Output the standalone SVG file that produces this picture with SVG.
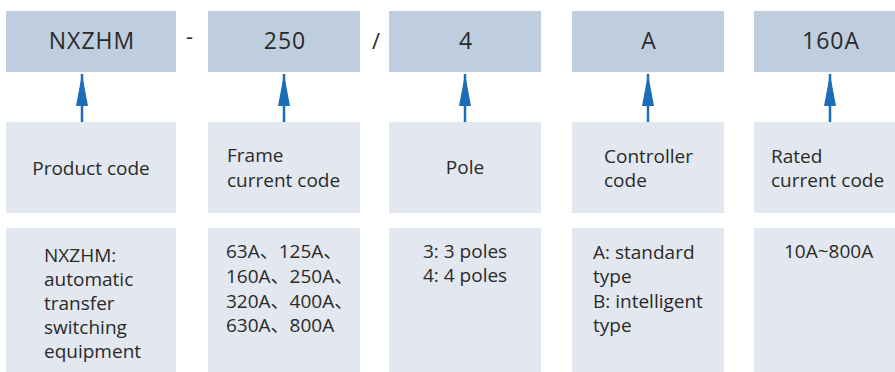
<svg xmlns="http://www.w3.org/2000/svg" width="895" height="372" viewBox="0 0 895 372">
<defs>
<style>
.top{fill:#bfcedf}
.box{fill:#e3e7ef}
text{font-family:"Open Sans","Noto Sans CJK SC",sans-serif;fill:#2a2a2a}
.t1{font-size:23px;letter-spacing:1px;text-anchor:middle}
.t2{font-size:19px}
.c{text-anchor:middle}
.sep{font-size:22px}
.arr{stroke:#1a6db6;stroke-width:2.5;fill:none;marker-end:url(#ah)}
</style>
<marker id="ah" markerUnits="userSpaceOnUse" markerWidth="32" markerHeight="12" viewBox="0 0 32 12" refX="32" refY="6" orient="auto">
<path d="M0,0 L32,6 L0,12 z" fill="#1a6db6"/>
</marker>
</defs>
<text class="sep" x="186" y="44">-</text>
<text class="sep" x="372" y="49">/</text>
<g id="n1">
<rect class="top" x="6" y="11" width="170" height="61"/>
<text class="t1" x="92" y="49">NXZHM</text>
<rect class="box" x="6" y="122" width="170" height="91"/>
<text class="t2 c" x="91" y="175">Product code</text>
<rect class="box" x="6" y="228" width="170" height="150"/>
<text class="t2" x="44"><tspan x="44" y="262">NXZHM:</tspan><tspan x="44" y="286">automatic</tspan><tspan x="44" y="310">transfer</tspan><tspan x="44" y="334">switching</tspan><tspan x="44" y="358">equipment</tspan></text>
</g>
<g id="n2">
<rect class="top" x="208" y="11" width="152" height="61"/>
<text class="t1" x="285" y="49">250</text>
<rect class="box" x="208" y="122" width="152" height="91"/>
<text class="t2"><tspan x="227" y="162">Frame</tspan><tspan x="227" y="187">current code</tspan></text>
<rect class="box" x="208" y="228" width="152" height="150"/>
<text class="t2"><tspan x="226" y="258">63A、125A、</tspan><tspan x="226" y="283">160A、250A、</tspan><tspan x="226" y="308">320A、400A、</tspan><tspan x="226" y="332">630A、800A</tspan></text>
</g>
<g id="n3">
<rect class="top" x="389" y="11" width="152" height="61"/>
<text class="t1" x="466" y="49">4</text>
<rect class="box" x="389" y="122" width="152" height="91"/>
<text class="t2 c" x="465" y="174">Pole</text>
<rect class="box" x="389" y="228" width="152" height="150"/>
<text class="t2"><tspan x="423" y="258">3: 3 poles</tspan><tspan x="423" y="282">4: 4 poles</tspan></text>
</g>
<g id="n4">
<rect class="top" x="572" y="11" width="152" height="61"/>
<text class="t1" x="649" y="49">A</text>
<rect class="box" x="572" y="122" width="152" height="91"/>
<text class="t2"><tspan x="604" y="163">Controller</tspan><tspan x="604" y="187">code</tspan></text>
<rect class="box" x="572" y="228" width="152" height="150"/>
<text class="t2"><tspan x="593" y="259">A: standard</tspan><tspan x="593" y="283">type</tspan><tspan x="593" y="308">B: intelligent</tspan><tspan x="593" y="332">type</tspan></text>
</g>
<g id="n5">
<rect class="top" x="754" y="11" width="160" height="61"/>
<text class="t1" x="831" y="49">160A</text>
<rect class="box" x="754" y="122" width="160" height="91"/>
<text class="t2"><tspan x="771" y="163">Rated</tspan><tspan x="771" y="187">current code</tspan></text>
<rect class="box" x="754" y="228" width="160" height="150"/>
<text class="t2" x="784" y="258">10A~800A</text>
</g>
<g id="connectors">
<line class="arr" x1="82" y1="122" x2="82" y2="74"/>
<line class="arr" x1="284" y1="122" x2="284" y2="74"/>
<line class="arr" x1="465" y1="122" x2="465" y2="74"/>
<line class="arr" x1="648" y1="122" x2="648" y2="74"/>
<line class="arr" x1="830" y1="122" x2="830" y2="74"/>
</g>
</svg>
